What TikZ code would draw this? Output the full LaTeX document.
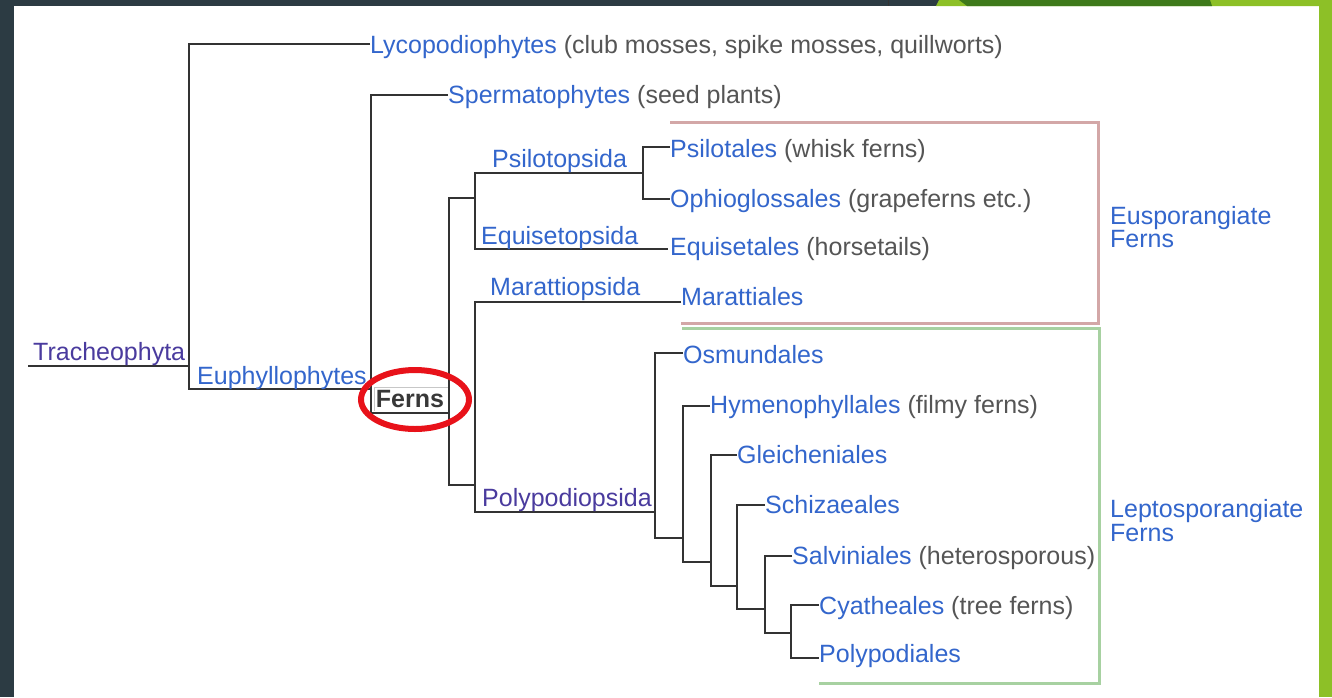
\documentclass[tikz,border=0pt]{standalone}
\usepackage{fontspec}
\setmainfont{Liberation Sans}
\definecolor{darkbg}{HTML}{2C3B43}
\definecolor{lgreen}{HTML}{8DC027}
\definecolor{dgreen}{HTML}{3E7A1A}
\definecolor{linkc}{HTML}{3366CC}
\definecolor{visitc}{HTML}{4A3B9E}
\definecolor{notec}{HTML}{555555}
\definecolor{branchc}{HTML}{333333}
\definecolor{pinkc}{HTML}{D3A7A7}
\definecolor{greenbox}{HTML}{A7D1A1}
\definecolor{circc}{HTML}{E8121A}
\begin{document}
\begin{tikzpicture}[x=1pt,y=-1pt,
  br/.style={draw=branchc, line width=2pt},
  txt/.style={anchor=base west, inner sep=0pt, font=\fontsize{25}{24}\selectfont},
  lk/.style={txt, text=linkc},
  vs/.style={txt, text=visitc},
  boxline/.style={line width=3pt}]
\useasboundingbox (0,0) rectangle (1332,697);
% background
\fill[darkbg] (0,0) rectangle (1332,697);
\fill[white] (14,6) rectangle (1319,697);
\fill[lgreen] (1319,0) rectangle (1332,697);
\fill[lgreen] (936,6) -- (939,0) -- (1332,0) -- (1332,6) -- cycle;
\fill[dgreen] (967,6) -- (959,0) -- (1210,0) -- (1212,6) -- cycle;
\draw[black!80, line width=1pt] (888,0) -- (888,6);

% tips and junctions
\coordinate (root) at (28,366);
\coordinate (j0) at (189,366);
\coordinate (lycoT) at (370,44);
\coordinate (j1) at (371,389);
\coordinate (spermT) at (448,95);
\coordinate (j2) at (449,413);
\coordinate (j3) at (475,198);
\coordinate (j4) at (643,173);
\coordinate (psilT) at (670,147);
\coordinate (ophT) at (670,199);
\coordinate (equT) at (668,249);
\coordinate (j5) at (475,485);
\coordinate (marT) at (681,302);
\coordinate (j6) at (655,512);
\coordinate (osmT) at (683,353);
\coordinate (j7) at (683,538);
\coordinate (hymT) at (710,406);
\coordinate (j8) at (711,562);
\coordinate (gleT) at (737,455);
\coordinate (j9) at (737,586);
\coordinate (schT) at (765,505);
\coordinate (j10) at (765,609);
\coordinate (salT) at (792,556);
\coordinate (j11) at (791,633);
\coordinate (cyaT) at (819,605);
\coordinate (polT) at (819,658);

% branches
\draw[br] (root) -- (j0);
\draw[br] (lycoT) -| (j0) |- (j1);
\draw[br] (spermT) -| (j1) |- (j2);
\draw[br] (j3) -| (j2) |- (j5);
\draw[br] (j4) -| (j3) |- (equT);
\draw[br] (psilT) -| (j4) |- (ophT);
\draw[br] (marT) -| (j5) |- (j6);
\draw[br] (osmT) -| (j6) |- (j7);
\draw[br] (hymT) -| (j7) |- (j8);
\draw[br] (gleT) -| (j8) |- (j9);
\draw[br] (schT) -| (j9) |- (j10);
\draw[br] (salT) -| (j10) |- (j11);
\draw[br] (cyaT) -| (j11) |- (polT);

% group boxes
\draw[pinkc, boxline] (670,122) -- (1098,122) -- (1098,323) -- (681,323);
\draw[greenbox, boxline] (682,328) -- (1099,328) -- (1099,683) -- (819,683);

% labels
\node[vs] (trach) at (33,360) {Tracheophyta};
\node[lk] (euph) at (197,384) {Euphyllophytes};
\node[txt] (lyco) at (370,53) {\textcolor{linkc}{Lycopodiophytes} \textcolor{notec}{(club mosses, spike mosses, quillworts)}};
\node[txt] (sperm) at (448,103) {\textcolor{linkc}{Spermatophytes} \textcolor{notec}{(seed plants)}};
\node[lk] (psilo) at (492,167) {Psilotopsida};
\node[lk] (equo) at (481,244) {Equisetopsida};
\node[lk] (marop) at (490,295) {Marattiopsida};
\node[vs] (polyop) at (482,506) {Polypodiopsida};
\node[txt] (psil) at (670,157) {\textcolor{linkc}{Psilotales} \textcolor{notec}{(whisk ferns)}};
\node[txt] (oph) at (670,207) {\textcolor{linkc}{Ophioglossales} \textcolor{notec}{(grapeferns etc.)}};
\node[txt] (equ) at (670,255) {\textcolor{linkc}{Equisetales} \textcolor{notec}{(horsetails)}};
\node[lk] (mar) at (681,305) {Marattiales};
\node[lk] (osm) at (683,363) {Osmundales};
\node[txt] (hym) at (710,413) {\textcolor{linkc}{Hymenophyllales} \textcolor{notec}{(filmy ferns)}};
\node[lk] (gle) at (737,463) {Gleicheniales};
\node[lk] (sch) at (765,513) {Schizaeales};
\node[txt] (sal) at (792,564) {\textcolor{linkc}{Salviniales} \textcolor{notec}{(heterosporous)}};
\node[txt] (cya) at (819,614) {\textcolor{linkc}{Cyatheales} \textcolor{notec}{(tree ferns)}};
\node[lk] (pol) at (819,662) {Polypodiales};
\node[lk] (eus1) at (1110,224) {Eusporangiate};
\node[lk] (eus2) at (1110,247) {Ferns};
\node[lk] (lep1) at (1110,517) {Leptosporangiate};
\node[lk] (lep2) at (1110,541) {Ferns};

% Ferns label with highlight
\draw[black!22, line width=0.8pt] (374,411) -- (374,387) -- (448,387);
\node[txt, anchor=base, text=black!78, font=\fontsize{25}{24}\selectfont\bfseries] (ferns) at (410,407) {Ferns};
\draw[circc, line width=6pt] (415,399.5) ellipse [x radius=54, y radius=29.5];
\end{tikzpicture}
\end{document}
